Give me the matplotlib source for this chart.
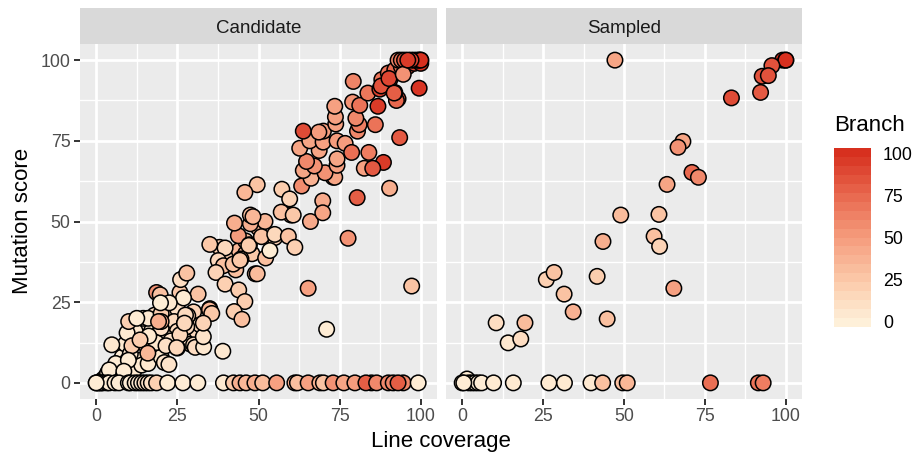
import numpy as np
import matplotlib
matplotlib.use('Agg')
import matplotlib.pyplot as plt
from matplotlib.colors import LinearSegmentedColormap

plt.rcParams['font.family'] = ['Liberation Sans', 'DejaVu Sans']

panel_names = ['Candidate', 'Sampled']
x_ticks = [0, 25, 50, 75, 100]
y_ticks = [0, 25, 50, 75, 100]
legend_ticks = [0, 25, 50, 75, 100]

# Candidate panel: points hidden in the dense parts first, then low scatter cloud,
# then middle, then top, then zero row
cand_x = [12, 14, 17, 19, 22, 24, 26, 17, 20, 28, 29, 31, 23, 25, 18, 30, 32, 35,
          38, 41, 43, 44, 46, 46, 50, 48, 52, 55, 60,
          88, 90, 92, 94, 96, 98,
          2, 3, 3.5, 5.5, 7, 8, 8.7, 9.7, 11.5, 13.5, 14, 6, 4, 9, 12, 16, 18, 10.5, 15, 20,
          24, 25, 27.2, 21.5, 23, 21, 22.4, 18.5, 21.5, 25, 30, 30.5, 33.1, 33, 20, 16.2, 9.5, 11,
          14.5, 16, 10, 20, 20, 18.6, 19.7, 25.8, 31.4, 26, 27.9, 26.9, 22.5, 19.8, 34.9, 35.6,
          28.2, 33, 27.9, 25.8, 27.5, 27.2, 19.2, 4.8, 13.5, 15.9, 12.5, 9.9, 8.5, 39, 24.8,
          35, 39.7, 37.6, 39.2, 36.9, 42.2, 44.6, 39.7, 43.9, 45.8, 42.5, 44.9, 49, 44.3, 43.8,
          47.2, 42.6, 47.5, 49.6, 52.2, 53.5, 47, 50.9, 55, 59.2, 61.2, 49.6, 45.8, 57.2, 59.6,
          57, 60.7, 47.5, 48.3, 66, 69.8, 69.8, 65.3, 97.2, 71, 77.6, 90.4, 80.4,
          63.3, 66.2, 73, 73.5, 70.5, 63.8, 67.2, 74.2, 74.2, 64.8, 68.7, 62.7, 65.8, 69.9,
          74.2, 76.7, 78.7, 84, 82.6, 88.5, 85.2, 70, 68.6, 63.8, 93.5, 80.5, 81, 86, 73.8, 73.7,
          73.5, 79, 80, 81.2, 86.8, 79.2, 83.7, 87.4, 93, 92.5, 92, 90.5, 87.8, 90.2, 91.8,
          100, 100, 99.5, 99, 98, 100, 93, 94, 95, 97, 94.6, 99.5, 96,
          0, 0.5, 1, 1.5, 2, 3.3, 4, 5.8, 7, 9.9, 10.5, 12, 13, 14, 15, 16, 17, 18.6, 22, 26.7, 31.3,
          39.2, 42.3, 44.3, 46.2, 48.9, 51.3, 55.6, 61.2, 62, 65.3, 68.9, 70, 73, 76.3, 79.7,
          84.8, 83.1, 86.4, 90, 91.5, 94.6, 93, 99.2, 0]
cand_y = [16, 17, 16, 15, 17, 13, 13, 12, 10, 13, 12, 16, 21, 23, 21, 22, 18, 23,
          42, 38, 35, 41, 40, 44, 48, 40, 50, 45, 52,
          94, 96, 97, 98, 98, 99,
          1, 2, 3, 3.5, 4.5, 8, 3.5, 7, 3.5, 7, 5.5, 6, 4, 12, 16, 6, 11, 9, 12, 8,
          19, 16, 18.5, 14, 13, 6.3, 5.7, 12.5, 11.5, 10.8, 11.8, 11, 11.1, 14.3, 17, 14.5, 15.5, 11.5,
          20, 20, 19, 21.5, 19, 28, 27.3, 28, 27.5, 32, 34, 26.3, 24.8, 24.8, 22.7, 21.5,
          20.8, 18.5, 17.4, 14.9, 21, 18.5, 19, 11.8, 13.3, 9.2, 20, 7, 3.6, 9.8, 10.9,
          42.9, 41.8, 37.9, 36.3, 34.2, 36.8, 38.4, 30.6, 28.8, 25.2, 22.1, 19.7, 33.8, 38, 45.6,
          42.8, 49.5, 49.3, 33.8, 38.7, 41, 42.6, 45.3, 46, 45.4, 42, 61.4, 59, 60, 57,
          52.9, 52, 52, 51.5, 50, 56.4, 52.7, 29.3, 30, 16.6, 44.8, 60.3, 57.4,
          61, 63.4, 63.7, 63.7, 65.1, 65.8, 67.2, 67.4, 69.4, 68.6, 72, 72.7, 75, 74.6,
          75, 74.2, 71.4, 71.4, 66.5, 68.3, 66.5, 78, 77.7, 78, 76, 78, 80, 80, 80.2, 82.4,
          85.7, 87, 82, 86, 85.7, 93.4, 89.8, 91, 88, 87.5, 90, 94, 92, 94.3, 89.8,
          100, 99, 100, 100, 100, 100, 100, 100, 100, 100, 95.6, 91.3, 100,
          0, 0, 0, 0, 0, 0, 0, 0, 0, 0, 0, 0, 0, 0, 0, 0, 0, 0, 0, 0, 0,
          0, 0, 0, 0, 0, 0, 0, 0, 0, 0, 0, 0, 0, 0, 0,
          0, 0, 0, 0, 0, 0, 0, 0, 0]
cand_b = [4, 8, 6, 12, 12, 10, 14, 8, 8, 8, 12, 15, 14, 10, 14, 18, 14, 22,
          20, 22, 30, 35, 28, 30, 35, 25, 35, 20, 30,
          70, 70, 75, 70, 85, 90,
          3, 3, 3, 3, 3, 3, 3, 3, 4, 4, 4, 3, 3, 4, 6, 5, 8, 5, 7, 6,
          14, 14, 15, 8, 8, 8, 8, 6, 10, 14, 14, 12, 5, 8, 10, 4, 4, 22,
          8, 5, 20, 22, 40, 55, 30, 25, 28, 12, 28, 3, 5, 2, 35, 25,
          18, 18, 15, 15, 14, 15, 40, 5, 22, 35, 3, 3, 3, 5, 15,
          25, 15, 15, 30, 18, 28, 18, 20, 22, 22, 22, 30, 32, 25, 50,
          22, 40, 40, 32, 30, 3, 22, 28, 15, 28, 20, 28, 35, 22, 18,
          30, 25, 30, 35, 42, 42, 45, 48, 28, 3, 55, 40, 80,
          58, 38, 45, 45, 55, 45, 55, 48, 45, 60, 45, 45, 45, 48,
          50, 50, 72, 65, 48, 95, 82, 48, 50, 88, 82, 60, 65, 70, 48, 48,
          48, 55, 60, 70, 95, 62, 68, 92, 85, 75, 80, 68, 85, 90, 80,
          100, 100, 100, 85, 90, 100, 60, 70, 80, 90, 55, 98, 95,
          3, 3, 3, 3, 3, 3, 3, 4, 3, 3, 3, 6, 5, 5, 12, 8, 10, 20, 3, 3, 3,
          5, 25, 40, 35, 40, 32, 48, 40, 30, 48, 40, 28, 55, 45, 50,
          60, 80, 60, 60, 60, 60, 80, 3, 3]

samp_x = [47.2, 99, 100, 100, 95.7, 92.7, 94.6, 92.2, 83.2, 68.2, 66.7, 71, 73, 63.3, 60.8, 49,
          59.3, 61, 43.5, 65.4, 26, 28.4, 41.7, 31.5, 34.3, 44.8, 10.5, 19.4, 14.2, 18.1,
          1.5, 0, 2, 3, 4, 5, 6, 0.5, 9.7, 15.8, 26.8, 31.6, 39.8, 43.4, 76.7, 91.5, 93, 49.6, 51]
samp_y = [100, 100, 100, 100, 98.3, 95, 95.2, 90, 88.3, 74.8, 73, 65.2, 63.7, 61.5, 52.2, 52,
          45.4, 42.3, 43.8, 29.3, 32, 34.2, 33, 27.5, 22, 19.8, 18.6, 18.6, 12.4, 13.6,
          1.2, 0, 0, 0, 0, 0, 0, 0, 0, 0, 0, 0, 0, 0, 0, 0, 0, 0, 0]
samp_b = [45, 100, 100, 100, 85, 85, 85, 82, 88, 45, 55, 75, 60, 45, 28, 32,
          30, 18, 40, 48, 20, 28, 22, 28, 38, 30, 12, 32, 5, 12,
          3, 3, 3, 3, 3, 3, 3, 3, 4, 4, 4, 4, 5, 30, 72, 70, 65, 30, 35]

cmap = LinearSegmentedColormap.from_list(
    'branch', ['#FEF0D9', '#FBC8A8', '#F59C7D', '#E9694F', '#D7301F'])

W, H = 913, 454
fig = plt.figure(figsize=(W / 100, H / 100), dpi=100)


def px_axes(left, top, right, bottom):
    return fig.add_axes([left / W, 1 - bottom / H, (right - left) / W, (bottom - top) / H])


def draw_panel(left, right, name, xs, ys, bs, show_y):
    ax = px_axes(left, 44, right, 399)
    ax.set_facecolor('#EBEBEB')
    ax.set_xlim(-5, 105)
    ax.set_ylim(-5, 105)
    ax.set_xticks(x_ticks)
    ax.set_yticks(y_ticks)
    ax.set_xticks([12.5, 37.5, 62.5, 87.5], minor=True)
    ax.set_yticks([12.5, 37.5, 62.5, 87.5], minor=True)
    ax.grid(which='major', color='white', lw=2.0, zorder=1)
    ax.grid(which='minor', color='white', lw=1.0, zorder=1)
    ax.set_axisbelow(True)
    for s in ax.spines.values():
        s.set_visible(False)
    ax.tick_params(which='minor', length=0)
    ax.tick_params(which='major', length=4.3, width=1.4, color='#333333',
                   labelcolor='#4D4D4D', labelsize=12.8, pad=2.5, left=show_y, labelleft=show_y)
    ax.scatter(xs, ys, c=bs, cmap=cmap, vmin=0, vmax=100, s=124, edgecolors='black',
               linewidths=1.1, zorder=3)

    strip = px_axes(left, 8, right, 44)
    strip.set_facecolor('#D9D9D9')
    strip.set_xticks([])
    strip.set_yticks([])
    for s in strip.spines.values():
        s.set_visible(False)
    strip.text(0.5, 0.44, name, transform=strip.transAxes, ha='center', va='center',
               fontsize=13.5, color='#1A1A1A')
    return ax


draw_panel(80, 437, panel_names[0], cand_x, cand_y, cand_b, True)
draw_panel(446, 802, panel_names[1], samp_x, samp_y, samp_b, False)

fig.text(441 / W, 1 - 441.5 / H, 'Line coverage', ha='center', va='center', fontsize=16)
fig.text(22 / W, 1 - 221 / H, 'Mutation score', ha='center', va='center', rotation=90, fontsize=16)

# colour legend
cbar = px_axes(834, 148, 871, 327)
bins = np.linspace(-3, 103, 21)
cbar.pcolormesh([0, 1], bins, ((bins[:-1] + bins[1:]) / 2).reshape(-1, 1), cmap=cmap,
                vmin=0, vmax=100)
cbar.set_ylim(-3, 103)
cbar.axis('off')
fig.text(834 / W, 1 - 126 / H, 'Branch', ha='left', va='center', fontsize=16)
for v in legend_ticks:
    py = 324 - v * 1.69
    fig.text(883 / W, 1 - py / H, str(v), ha='left', va='center', fontsize=12.8)

fig.savefig('out.png', dpi=100)
